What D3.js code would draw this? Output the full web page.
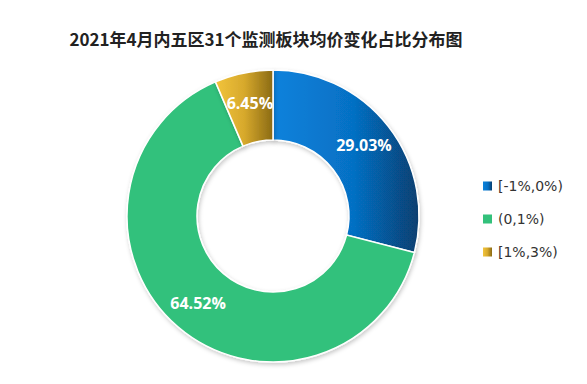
<!DOCTYPE html>
<html><head><meta charset="utf-8">
<script src="https://cdn.jsdelivr.net/npm/d3@7"></script>
<style>body{margin:0;background:#fff;}svg{display:block;font-family:"Microsoft YaHei","Noto Sans CJK SC",sans-serif;}</style>
</head><body>
<svg id="c" width="587" height="384"></svg>
<script>
const categories = ["[-1%,0%)", "(0,1%)", "[1%,3%)"];
const values = [29.03, 64.52, 6.45];
const labels = ["29.03%", "64.52%", "6.45%"];
const title = "2021年4月内五区31个监测板块均价变化占比分布图";

const svg = d3.select("#c");
const defs = svg.append("defs");
const g1 = defs.append("linearGradient").attr("id","gBlue").attr("x1","0").attr("x2","1").attr("y1","0").attr("y2","0");
g1.append("stop").attr("offset","0").attr("stop-color","#0a82dc");
g1.append("stop").attr("offset","0.55").attr("stop-color","#0670c4");
g1.append("stop").attr("offset","1").attr("stop-color","#073f70");
const g3 = defs.append("linearGradient").attr("id","gGold").attr("x1","0").attr("x2","1").attr("y1","0").attr("y2","0");
g3.append("stop").attr("offset","0").attr("stop-color","#f2c43c");
g3.append("stop").attr("offset","0.5").attr("stop-color","#d7a92c");
g3.append("stop").attr("offset","1").attr("stop-color","#8a6a14");
const f = defs.append("filter").attr("id","sh").attr("x","-20%").attr("y","-20%").attr("width","140%").attr("height","140%");
f.append("feDropShadow").attr("dx",1).attr("dy",2).attr("stdDeviation",2).attr("flood-color","#000").attr("flood-opacity",0.22);

const fills = ["url(#gBlue)", "#33c17b", "url(#gGold)"];

svg.append("text").attr("x",266).attr("y",46).attr("text-anchor","middle")
  .attr("font-size",17).attr("font-weight","bold").attr("fill","#222").text(title);

const cx = 273, cy = 216, R = 146, r = 76;
const pie = d3.pie().sort(null).value(d=>d);
const arc = d3.arc().innerRadius(r).outerRadius(R);
const arcs = pie(values);
const g = svg.append("g").attr("transform",`translate(${cx},${cy})`);
g.selectAll("path").data(arcs).join("path")
  .attr("d",arc).attr("fill",(d,i)=>fills[i])
  .attr("stroke","#fff").attr("stroke-width",1.5)
  .attr("filter","url(#sh)");
const lArc = d3.arc().innerRadius(115).outerRadius(115);
g.selectAll("text.lbl").data(arcs).join("text").attr("class","lbl")
  .attr("transform",d=>`translate(${lArc.centroid(d)})`)
  .attr("text-anchor","middle").attr("dy","0.35em")
  .attr("font-size",16).attr("font-weight","bold").attr("fill","#fff")
  .attr("font-family","'Open Sans','Noto Sans',sans-serif")
  .text((d,i)=>labels[i]);

const lg = svg.append("g").attr("transform","translate(483,186)");
categories.forEach((c,i)=>{
  const row = lg.append("g").attr("transform",`translate(0,${i*33})`);
  row.append("rect").attr("x",0).attr("y",-4.5).attr("width",9).attr("height",9).attr("fill",fills[i]);
  row.append("text").attr("x",15).attr("y",0).attr("dy","0.35em").attr("font-size",14).attr("fill","#333")
    .attr("font-family","'Segoe UI','DejaVu Sans',sans-serif").text(c);
});
</script>
</body></html>
